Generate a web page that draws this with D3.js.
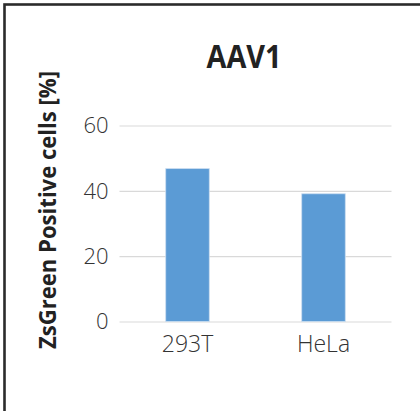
<!DOCTYPE html>
<html>
<head>
<meta charset="utf-8">
<script src="https://cdn.jsdelivr.net/npm/d3@7"></script>
<style>
  html, body { margin: 0; padding: 0; background: #fff; }
  svg { display: block; }
</style>
</head>
<body>
<script>
// Transduction efficiency for AAV1 by cell line
const categories = ["293T", "HeLa"];
const values = [46.8, 39.1];
const yTicks = [0, 20, 40, 60];
const chartTitle = "AAV1";
const yTitle = "ZsGreen Positive cells [%]";

const width = 420, height = 411;
const margin = { left: 119.5, right: 28.5, top: 125.5, bottom: 89.5 };

const svg = d3.select("body").append("svg")
  .attr("width", width)
  .attr("height", height);

// outer frame, running off the right and bottom edges
svg.append("rect")
  .attr("x", 4.5).attr("y", 4.5)
  .attr("width", width + 10).attr("height", height + 10)
  .attr("fill", "#fff")
  .attr("stroke", "#2b2b2b")
  .attr("stroke-width", 2.6);

const x = d3.scaleBand()
  .domain(categories)
  .range([margin.left, width - margin.right])
  .paddingInner(0.68)
  .paddingOuter(0.34);

const y = d3.scaleLinear()
  .domain([0, 60])
  .range([height - margin.bottom, margin.top]);

// horizontal gridlines with tick labels
const yAxis = svg.append("g")
  .attr("transform", `translate(${margin.left},0)`)
  .call(d3.axisLeft(y)
    .tickValues(yTicks)
    .tickSize(-(width - margin.right - margin.left))
    .tickPadding(11));
yAxis.select(".domain").remove();
yAxis.selectAll(".tick line")
  .attr("stroke", "#d9d9d9")
  .attr("stroke-width", 1.2);
yAxis.selectAll(".tick text")
  .attr("fill", "#333")
  .attr("font-family", "'Open Sans', sans-serif")
  .attr("font-weight", 300)
  .attr("font-size", 22)
  .attr("dy", "0.34em");

// bars
svg.append("g").selectAll("rect")
  .data(values)
  .join("rect")
  .attr("x", (d, i) => x(categories[i]))
  .attr("width", x.bandwidth())
  .attr("y", d => y(d))
  .attr("height", d => y(0) - y(d))
  .attr("fill", "#5b9bd5")
  .attr("stroke", "#c9dcf0")
  .attr("stroke-width", 0.8);

// category labels
const xAxis = svg.append("g")
  .attr("transform", `translate(0,${y(0)})`)
  .call(d3.axisBottom(x).tickSize(0).tickPadding(14));
xAxis.select(".domain").remove();
xAxis.selectAll(".tick text")
  .attr("fill", "#333")
  .attr("font-family", "'Open Sans', sans-serif")
  .attr("font-weight", 300)
  .attr("font-size", 23)
  .attr("dy", "0.71em");

// chart title
svg.append("text")
  .attr("x", 244)
  .attr("y", 68)
  .attr("text-anchor", "middle")
  .attr("fill", "#222")
  .attr("font-family", "'Open Sans', sans-serif")
  .attr("font-weight", 700)
  .attr("font-size", 32)
  .attr("textLength", 75)
  .attr("lengthAdjust", "spacingAndGlyphs")
  .text(chartTitle);

// y-axis title
svg.append("text")
  .attr("transform", "translate(56,210) rotate(-90)")
  .attr("text-anchor", "middle")
  .attr("fill", "#222")
  .attr("font-family", "'Open Sans', sans-serif")
  .attr("font-weight", 700)
  .attr("font-size", 24)
  .attr("textLength", 278)
  .attr("lengthAdjust", "spacingAndGlyphs")
  .text(yTitle);
</script>
</body>
</html>
